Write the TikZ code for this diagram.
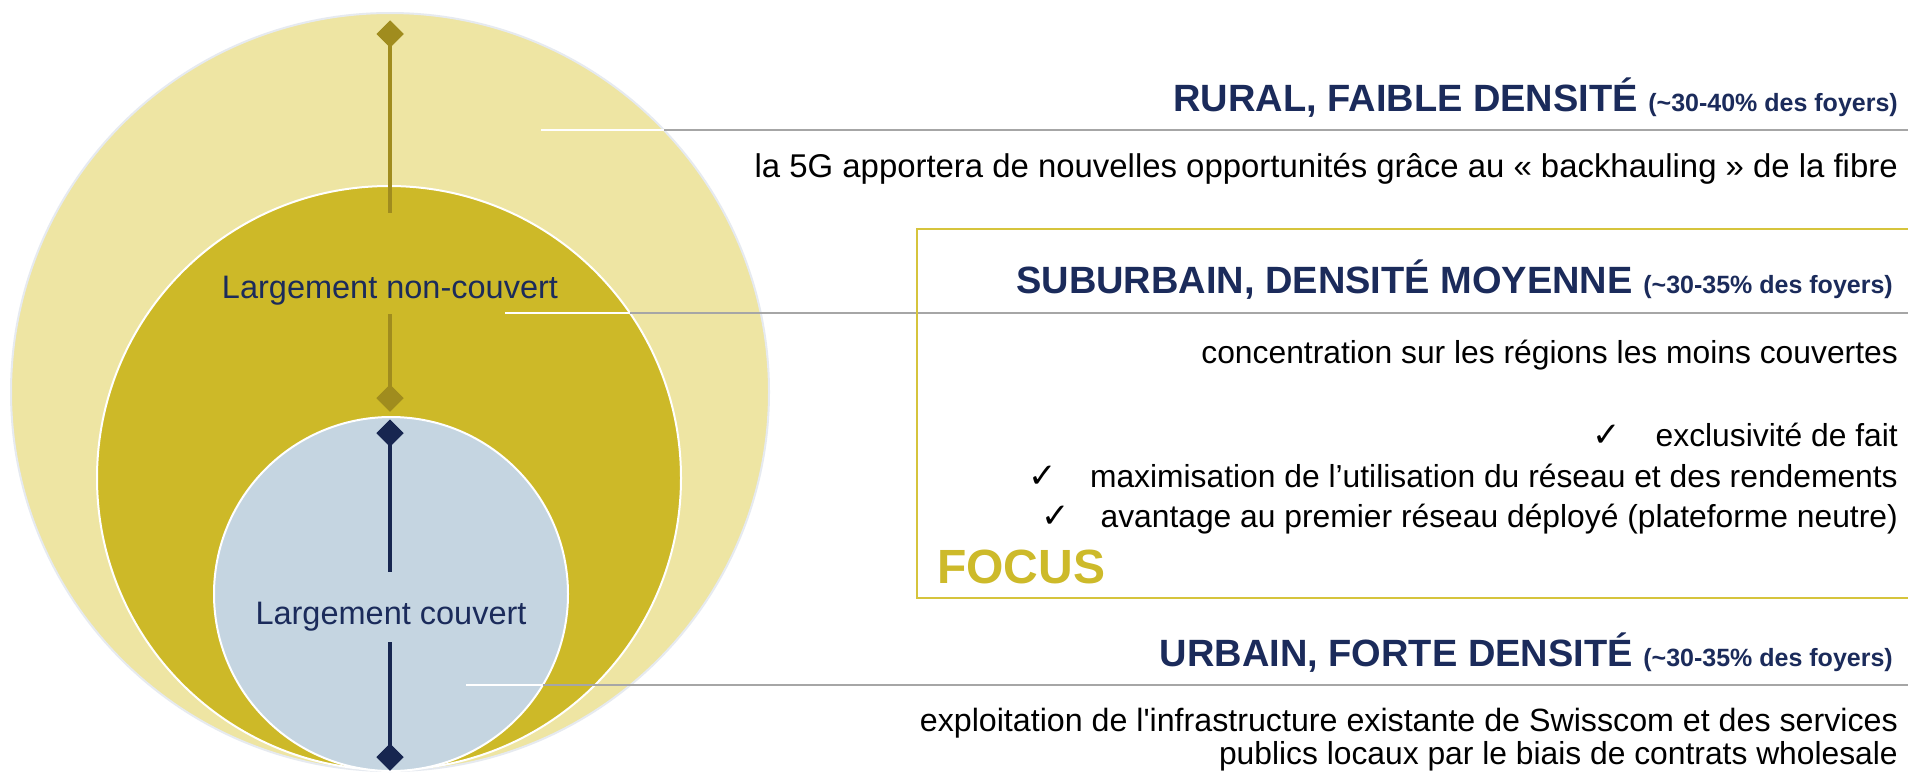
\documentclass[tikz,border=0pt]{standalone}
\usepackage{fontspec}
\setmainfont{Liberation Sans}
\newfontfamily\dejavu{DejaVu Sans}
\usetikzlibrary{shapes.geometric}
\definecolor{outerfill}{HTML}{EEE5A3}
\definecolor{outerline}{HTML}{E6EAF0}
\definecolor{midfill}{HTML}{CDB928}
\definecolor{innerfill}{HTML}{C5D5E1}
\definecolor{olivec}{HTML}{A08C1E}
\definecolor{navyc}{HTML}{172650}
\definecolor{headc}{HTML}{1B2B5B}
\definecolor{greyl}{HTML}{A6A6A6}
\definecolor{goldbox}{HTML}{D6C43C}
\definecolor{focusc}{HTML}{CDBA2A}
\tikzset{
  disc/.style={circle, inner sep=0pt, outer sep=0pt, line width=2pt},
  dia/.style={diamond, inner sep=0pt, minimum size=27pt, outer sep=0pt},
  axisline/.style={line width=4.5pt},
  lbl/.style={font=\fontsize{32.5}{36}\selectfont, text=headc, inner sep=0pt},
  body/.style={font=\fontsize{31.8}{36}\selectfont, text=black, inner sep=0pt, anchor=base east},
  head/.style={font=\fontsize{38}{40}\selectfont\bfseries, text=headc, inner sep=0pt, anchor=base east},
  chk/.style={font=\dejavu\fontsize{34}{36}\selectfont, inner sep=0pt, anchor=base},
  wline/.style={white, line width=2pt},
  gline/.style={greyl, line width=2.5pt},
}
\newcommand{\smallpart}[1]{{\fontsize{25}{27}\selectfont #1}}
\newcommand{\straightquote}{{\XeTeXglyph\XeTeXcharglyph"0027\relax}}
\begin{document}
\begin{tikzpicture}[x=1pt,y=-1pt]
\useasboundingbox (0,0) rectangle (1908,772);
\fill[white] (0,0) rectangle (1908,772);
\coordinate (redge) at (1908,0);

% circles
\node[disc, minimum size=758pt, fill=outerfill, draw=outerline] (outer) at (390,392) {};
\node[disc, minimum size=584pt, fill=midfill, draw=white] (middle) at (389,478) {};
\node[disc, minimum size=354pt, fill=innerfill, draw=white] (inner) at (391,594) {};

% labels in circles
\node[lbl, anchor=base] (nc) at (390,298) {Largement non-couvert};
\node[lbl, anchor=base] (cv) at (391,624) {Largement couvert};

% axis lines and diamonds
\node[dia, fill=olivec] (d1) at (390,34) {};
\node[dia, fill=olivec] (d2) at (390,398) {};
\node[dia, fill=navyc] (d3) at (390,433) {};
\node[dia, fill=navyc] (d4) at (390,757) {};
\coordinate (o1) at (390,213);
\coordinate (o2) at (390,314);
\coordinate (n1) at (390,572);
\coordinate (n2) at (390,642);
\draw[axisline, olivec] (d1.center) -- (o1);
\draw[axisline, olivec] (o2) -- (d2.center);
\draw[axisline, navyc] (d3.center) -- (n1);
\draw[axisline, navyc] (n2) -- (d4.center);
\node[dia, fill=olivec] at (d1) {};
\node[dia, fill=olivec] at (d2) {};
\node[dia, fill=navyc] at (d3) {};
\node[dia, fill=navyc] at (d4) {};

% leader lines
\coordinate (r0) at (541,130);
\coordinate (r1) at (664,130);
\coordinate (s0) at (505,313);
\coordinate (s1) at (630,313);
\coordinate (u0) at (466,685);
\coordinate (u1) at (543,685);
\draw[wline] (r0) -- (r1);
\draw[gline] (r1) -- (r1 -| redge);
\draw[wline] (s0) -- (s1);
\draw[gline] (s1) -- (s1 -| redge);
\draw[wline] (u0) -- (u1);
\draw[gline] (u1) -- (u1 -| redge);

% focus box
\draw[goldbox, line width=2pt] (1912,229) -- (917,229) -- (917,598) -- (1912,598);

% texts
\node[head] (rh) at (1898,111) {RURAL, FAIBLE DENSITÉ \smallpart{(\textasciitilde 30-40\% des foyers)}};
\node[body, font=\fontsize{32.9}{36}\selectfont] (rt) at (1898,177) {la 5G apportera de nouvelles opportunités grâce au «~backhauling~» de la fibre};
\node[head] (sh) at (1893,293) {SUBURBAIN, DENSITÉ MOYENNE \smallpart{(\textasciitilde 30-35\% des foyers)}};
\node[body] (st) at (1898,363) {concentration sur les régions les moins couvertes};
\node[body] (b1) at (1898,446) {exclusivité de fait};
\node[body] (b2) at (1898,487) {maximisation de l’utilisation du réseau et des rendements};
\node[body] (b3) at (1898,527) {avantage au premier réseau déployé (plateforme neutre)};
\node[chk] (c1) at ([xshift=-49pt]b1.base west) {✓};
\node[chk] (c2) at ([xshift=-47pt]b2.base west) {✓};
\node[chk] (c3) at ([xshift=-45pt]b3.base west) {✓};
\node[font=\fontsize{48}{50}\selectfont\bfseries, text=focusc, inner sep=0pt, anchor=base west] (focus) at (937,583) {FOCUS};
\node[head] (uh) at (1893,666) {URBAIN, FORTE DENSITÉ \smallpart{(\textasciitilde 30-35\% des foyers)}};
\node[body, font=\fontsize{32.2}{36}\selectfont] (ut1) at (1898,731) {exploitation de l\straightquote infrastructure existante de Swisscom et des services};
\node[body] (ut2) at (1898,764) {publics locaux par le biais de contrats wholesale};
\end{tikzpicture}
\end{document}
